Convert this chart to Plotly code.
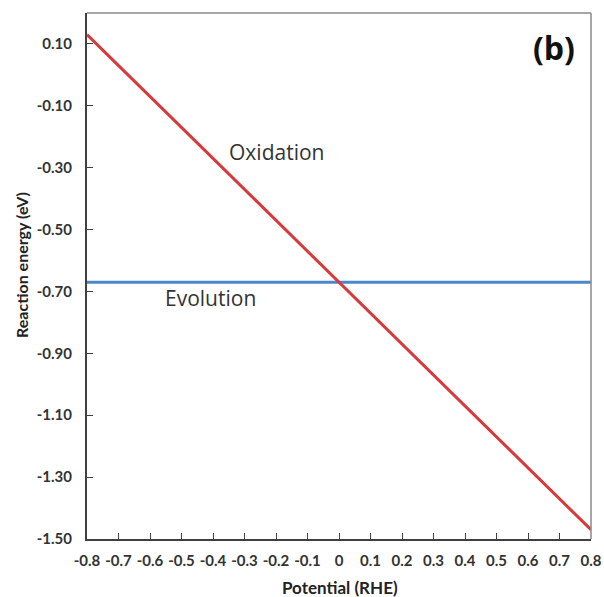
import plotly.graph_objects as go

potential = [-0.8, 0.8]
oxidation = [0.13, -1.47]
evolution = [-0.67, -0.67]
x_ticks = [-0.8, -0.7, -0.6, -0.5, -0.4, -0.3, -0.2, -0.1, 0, 0.1, 0.2, 0.3, 0.4, 0.5, 0.6, 0.7, 0.8]
x_labels = ["-0.8", "-0.7", "-0.6", "-0.5", "-0.4", "-0.3", "-0.2", "-0.1", "0", "0.1", "0.2", "0.3", "0.4", "0.5", "0.6", "0.7", "0.8"]
y_ticks = [0.10, -0.10, -0.30, -0.50, -0.70, -0.90, -1.10, -1.30, -1.50]

fig = go.Figure()
fig.add_trace(go.Scatter(x=potential, y=evolution, mode="lines",
                         line=dict(color="#4a86c8", width=3), showlegend=False))
fig.add_trace(go.Scatter(x=potential, y=oxidation, mode="lines",
                         line=dict(color="#d63a3a", width=3), showlegend=False))

font_main = "Lato, Open Sans, sans-serif"
fig.update_layout(
    width=604, height=597, autosize=False,
    margin=dict(l=87, r=13, t=13, b=58),
    plot_bgcolor="white", paper_bgcolor="white",
    font=dict(family=font_main, color="#333333"),
    xaxis=dict(range=[-0.8, 0.8], tickmode="array", tickvals=x_ticks, ticktext=x_labels,
               ticks="inside", ticklen=6, tickcolor="#404040", showgrid=False, zeroline=False,
               showline=True, linecolor="#404040", linewidth=2, ticklabelstandoff=7,
               automargin=False,
               tickfont=dict(size=15, family=font_main, color="#333333", weight="bold")),
    yaxis=dict(range=[-1.5, 0.2], tickmode="array", tickvals=y_ticks,
               ticktext=["%.2f" % v for v in y_ticks],
               ticks="inside", ticklen=6, tickcolor="#404040", showgrid=False, zeroline=False,
               showline=True, linecolor="#404040", linewidth=2, ticklabelstandoff=10,
               automargin=False,
               tickfont=dict(size=15, family=font_main, color="#333333", weight="bold")),
    shapes=[
        dict(type="line", xref="paper", yref="paper", x0=0, x1=1, y0=1, y1=1,
             line=dict(color="#888888", width=1.5)),
        dict(type="line", xref="paper", yref="paper", x0=1, x1=1, y0=0, y1=1,
             line=dict(color="#888888", width=1.5)),
    ],
    annotations=[
        dict(x=-0.356, y=-0.25, xref="x", yref="y", text="Oxidation", showarrow=False,
             xanchor="left", font=dict(size=21, family="Open Sans, Lato, sans-serif", color="#333333")),
        dict(x=-0.559, y=-0.721, xref="x", yref="y", text="Evolution", showarrow=False,
             xanchor="left", font=dict(size=21, family="Open Sans, Lato, sans-serif", color="#333333")),
        dict(x=0.756, y=0.09, xref="x", yref="y", text="<b>(b)</b>", showarrow=False,
             xanchor="right", font=dict(size=32, family="Open Sans, Lato, sans-serif", color="#111111")),
        dict(x=0.502, y=-0.093, xref="paper", yref="paper", text="<b>Potential (RHE)</b>",
             showarrow=False, xanchor="center", yanchor="middle",
             font=dict(size=17, family=font_main, color="#222222")),
        dict(x=-0.129, y=0.521, xref="paper", yref="paper", text="<b>Reaction energy (eV)</b>",
             showarrow=False, xanchor="center", yanchor="middle", textangle=-90,
             font=dict(size=16, family=font_main, color="#222222")),
    ],
)

fig.write_html("out.html",
               config={"responsive": False, "displayModeBar": False},
               post_script="document.body.style.margin='0';document.body.style.overflow='hidden';")
